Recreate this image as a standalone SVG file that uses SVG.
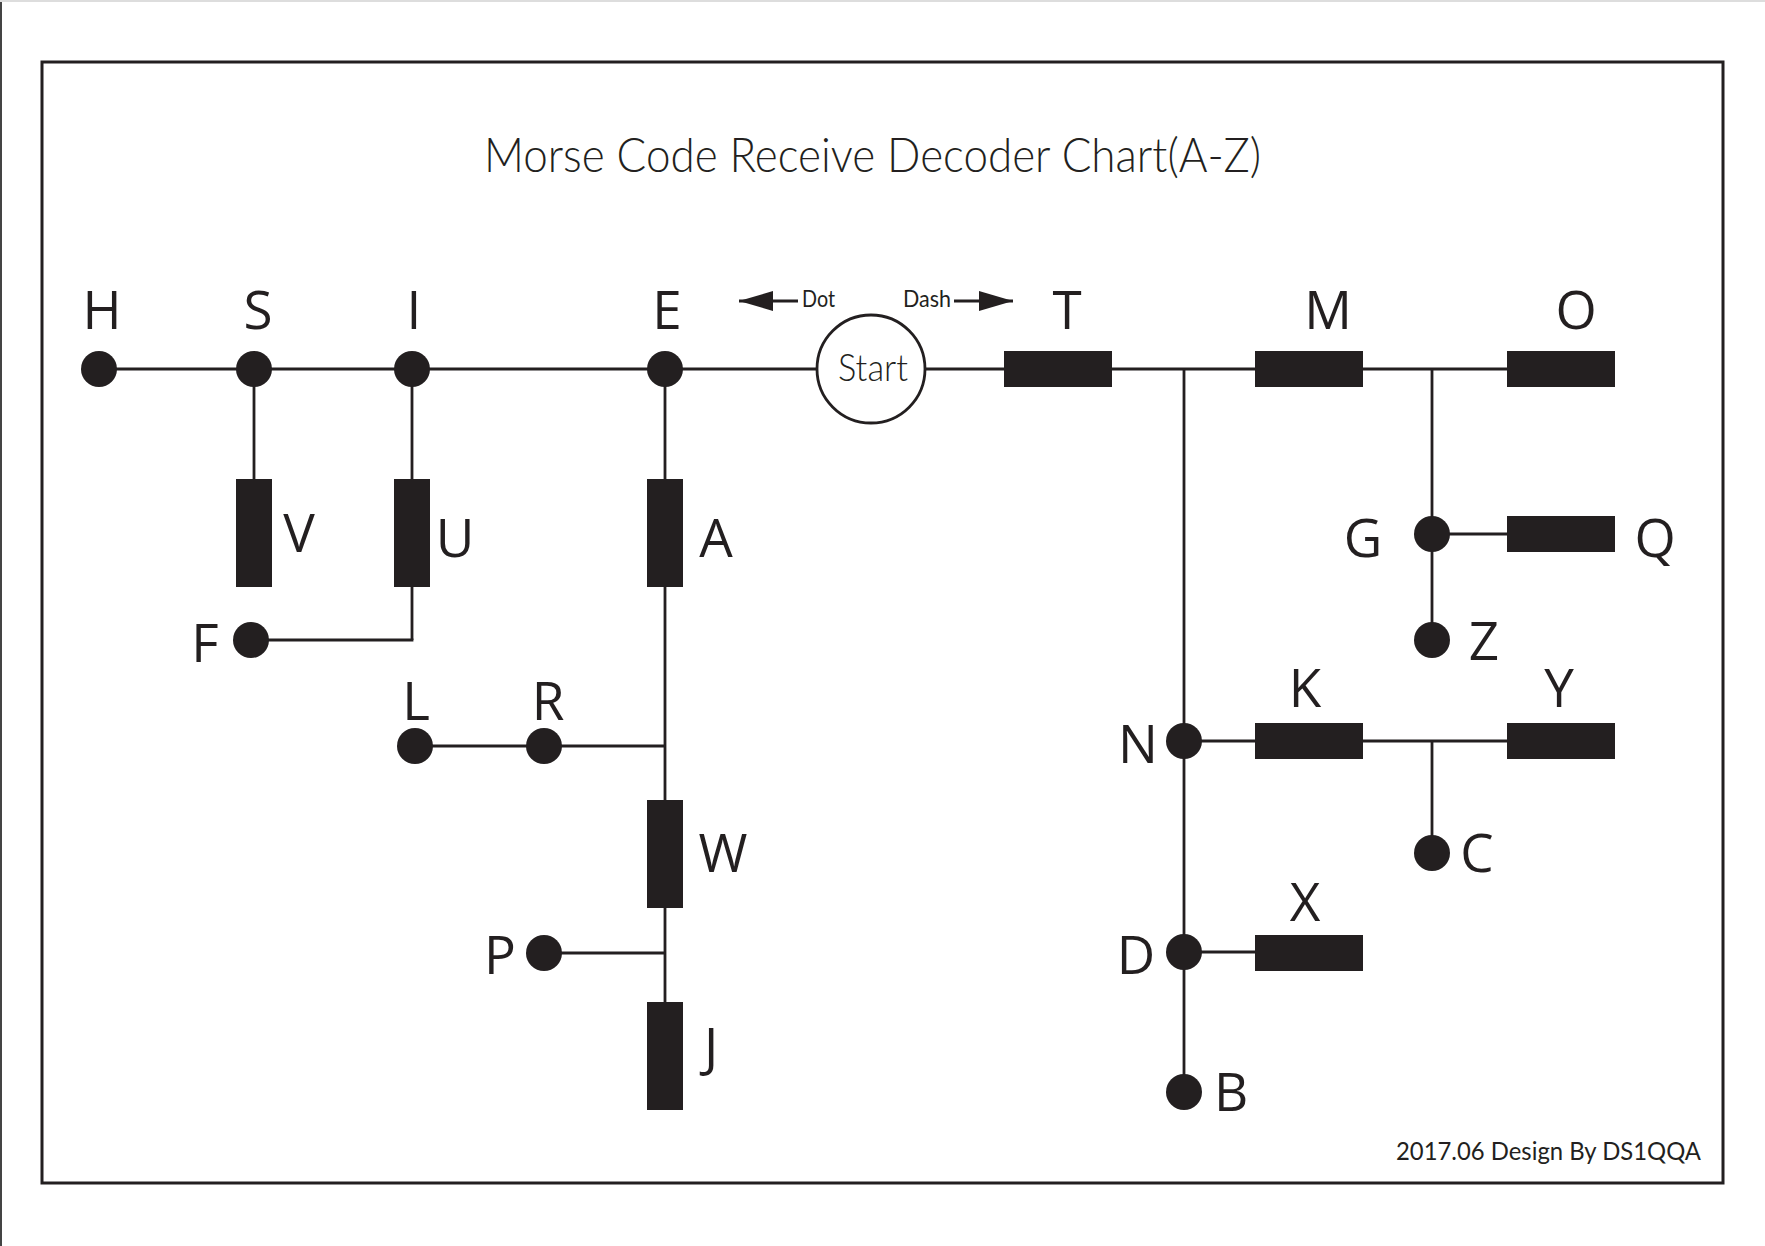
<svg xmlns="http://www.w3.org/2000/svg" width="1765" height="1246" viewBox="0 0 1765 1246">
<style>
.ln{stroke:#231f20;stroke-width:2.8;fill:none}
.dot{fill:#231f20}
.dash{fill:#231f20}
.lbl{font-family:"Open Sans","Liberation Sans",sans-serif;font-size:53px;fill:#231f20;text-anchor:middle}
.sm{font-family:"Lato","Liberation Sans",sans-serif;font-weight:400;fill:#231f20}
.lt{font-weight:300}
</style>
<defs>
<marker id="ah" markerUnits="userSpaceOnUse" viewBox="0 0 34 20" markerWidth="34" markerHeight="20" refX="34" refY="10" orient="auto">
<polygon points="0,0 34,10 0,20" fill="#231f20"/>
</marker>
</defs>
<rect width="1765" height="1246" fill="#fff"/>
<line x1="1" y1="0" x2="1" y2="1246" stroke="#444" stroke-width="2"/>
<line x1="0" y1="1" x2="1765" y2="1" stroke="#ddd" stroke-width="2"/>
<rect x="42" y="62" width="1681" height="1121" fill="none" stroke="#231f20" stroke-width="3"/>
<text class="sm lt" x="484" y="172" font-size="48" textLength="777" lengthAdjust="spacingAndGlyphs">Morse Code Receive Decoder Chart(A-Z)</text>

<g id="connectors">
<line class="ln" x1="99" y1="369" x2="817" y2="369"/>
<line class="ln" x1="925" y1="369" x2="1507" y2="369"/>
<line class="ln" x1="254" y1="369" x2="254" y2="480"/>
<line class="ln" x1="412" y1="369" x2="412" y2="640"/>
<line class="ln" x1="251" y1="640" x2="413.4" y2="640"/>
<line class="ln" x1="665" y1="369" x2="665" y2="1003"/>
<line class="ln" x1="415" y1="746" x2="665" y2="746"/>
<line class="ln" x1="544" y1="953" x2="665" y2="953"/>
<line class="ln" x1="1184" y1="369" x2="1184" y2="1092"/>
<line class="ln" x1="1432" y1="369" x2="1432" y2="640"/>
<line class="ln" x1="1432" y1="534" x2="1507" y2="534"/>
<line class="ln" x1="1184" y1="741" x2="1507" y2="741"/>
<line class="ln" x1="1432" y1="741" x2="1432" y2="853"/>
<line class="ln" x1="1184" y1="952" x2="1255" y2="952"/>
<line class="ln" x1="798" y1="301" x2="739" y2="301" marker-end="url(#ah)"/>
<line class="ln" x1="954" y1="301" x2="1013" y2="301" marker-end="url(#ah)"/>
</g>

<g id="legend">
<text class="sm" x="802" y="307" font-size="23" textLength="33" lengthAdjust="spacingAndGlyphs">Dot</text>
<text class="sm" x="903" y="307" font-size="23" textLength="48" lengthAdjust="spacingAndGlyphs">Dash</text>
</g>

<g id="start">
<circle cx="871" cy="369" r="54" fill="#fff" stroke="#231f20" stroke-width="2.8"/>
<text class="sm lt" x="873" y="381" font-size="37" text-anchor="middle" textLength="70" lengthAdjust="spacingAndGlyphs">Start</text>
</g>

<g id="node-E"><circle class="dot" cx="665" cy="369" r="18"/><text class="lbl" x="667" y="329">E</text></g>
<g id="node-I"><circle class="dot" cx="412" cy="369" r="18"/><text class="lbl" x="414" y="329">I</text></g>
<g id="node-S"><circle class="dot" cx="254" cy="369" r="18"/><text class="lbl" x="258" y="329">S</text></g>
<g id="node-H"><circle class="dot" cx="99" cy="369" r="18"/><text class="lbl" x="102" y="329">H</text></g>
<g id="node-V"><rect class="dash" x="236" y="479" width="36" height="108"/><text class="lbl" x="299" y="552">V</text></g>
<g id="node-U"><rect class="dash" x="394" y="479" width="36" height="108"/><text class="lbl" x="455" y="557">U</text></g>
<g id="node-F"><circle class="dot" cx="251" cy="640" r="18"/><text class="lbl" x="205" y="662">F</text></g>
<g id="node-A"><rect class="dash" x="647" y="479" width="36" height="108"/><text class="lbl" x="716" y="557">A</text></g>
<g id="node-R"><circle class="dot" cx="544" cy="746" r="18"/><text class="lbl" x="548" y="720">R</text></g>
<g id="node-L"><circle class="dot" cx="415" cy="746" r="18"/><text class="lbl" x="416" y="720">L</text></g>
<g id="node-W"><rect class="dash" x="647" y="800" width="36" height="108"/><text class="lbl" x="723" y="872">W</text></g>
<g id="node-P"><circle class="dot" cx="544" cy="953" r="18"/><text class="lbl" x="500" y="974">P</text></g>
<g id="node-J"><rect class="dash" x="647" y="1002" width="36" height="108"/><text class="lbl" x="711" y="1066">J</text></g>

<g id="node-T"><rect class="dash" x="1004" y="351" width="108" height="36"/><text class="lbl" x="1067" y="329">T</text></g>
<g id="node-M"><rect class="dash" x="1255" y="351" width="108" height="36"/><text class="lbl" x="1328" y="329">M</text></g>
<g id="node-O"><rect class="dash" x="1507" y="351" width="108" height="36"/><text class="lbl" x="1576" y="329">O</text></g>
<g id="node-G"><circle class="dot" cx="1432" cy="534" r="18"/><text class="lbl" x="1363" y="557">G</text></g>
<g id="node-Q"><rect class="dash" x="1507" y="516" width="108" height="36"/><text class="lbl" x="1655" y="557">Q</text></g>
<g id="node-Z"><circle class="dot" cx="1432" cy="640" r="18"/><text class="lbl" x="1484" y="660">Z</text></g>
<g id="node-N"><circle class="dot" cx="1184" cy="741" r="18"/><text class="lbl" x="1138" y="763">N</text></g>
<g id="node-K"><rect class="dash" x="1255" y="723" width="108" height="36"/><text class="lbl" x="1305" y="707">K</text></g>
<g id="node-Y"><rect class="dash" x="1507" y="723" width="108" height="36"/><text class="lbl" x="1559" y="707">Y</text></g>
<g id="node-C"><circle class="dot" cx="1432" cy="853" r="18"/><text class="lbl" x="1477" y="872">C</text></g>
<g id="node-D"><circle class="dot" cx="1184" cy="952" r="18"/><text class="lbl" x="1136" y="974">D</text></g>
<g id="node-X"><rect class="dash" x="1255" y="935" width="108" height="36"/><text class="lbl" x="1305" y="921">X</text></g>
<g id="node-B"><circle class="dot" cx="1184" cy="1092" r="18"/><text class="lbl" x="1231" y="1111">B</text></g>

<text class="sm" x="1396" y="1160" font-size="25" textLength="305" lengthAdjust="spacingAndGlyphs">2017.06 Design By DS1QQA</text>
</svg>
